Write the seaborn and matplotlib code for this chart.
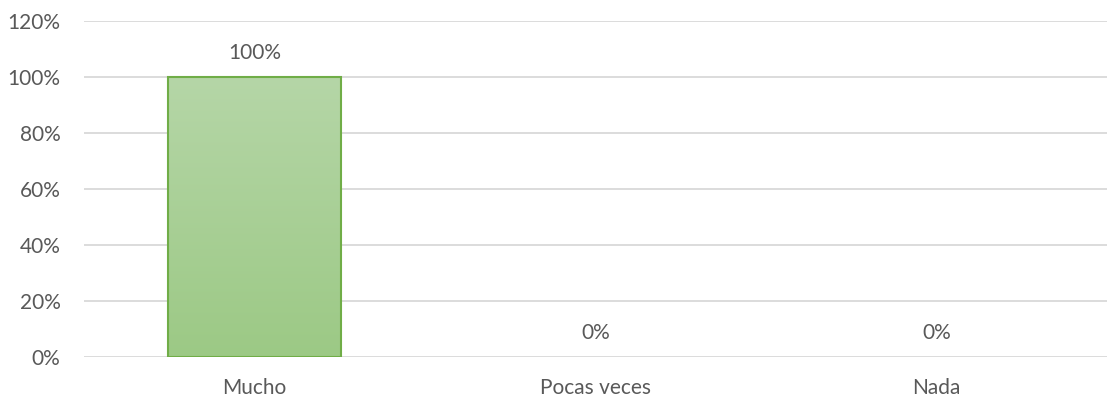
import matplotlib
matplotlib.use("Agg")
import matplotlib.pyplot as plt
import seaborn as sns
import numpy as np
import pandas as pd
from matplotlib.colors import LinearSegmentedColormap
from matplotlib.ticker import FuncFormatter

categories = ["Mucho", "Pocas veces", "Nada"]
values = [1.00, 0.00, 0.00]
yticks = [0, 0.2, 0.4, 0.6, 0.8, 1.0, 1.2]

sns.set_theme(style="white")
plt.rcParams['font.family'] = ['Lato', 'DejaVu Sans']

df = pd.DataFrame({"cat": categories, "val": values})

fig = plt.figure(figsize=(11.07, 4.0), dpi=100)
ax = fig.add_axes([84/1107, 43/400, (1107-84)/1107, (357-21)/400])

sns.barplot(data=df, x="cat", y="val", ax=ax, width=0.507,
            color="#9dc987", edgecolor="#70ad47", linewidth=1.5, zorder=3)

ax.set_ylim(0, 1.2)
ax.set_xlim(-0.5, 2.5)
ax.set_yticks(yticks)
ax.yaxis.set_major_formatter(FuncFormatter(lambda v, p: f"{v*100:.0f}%"))
ax.grid(axis="y", color="#d9d9d9", linewidth=1.3, zorder=0)
ax.set_axisbelow(True)
for s in ax.spines.values():
    s.set_visible(False)
ax.set_xlabel("")
ax.set_ylabel("")
ax.tick_params(axis="both", length=0, labelsize=15, labelcolor="#595959")
ax.tick_params(axis="y", pad=17)
ax.tick_params(axis="x", pad=15)

cmap = LinearSegmentedColormap.from_list("g", ["#9cc985", "#b5d6a7"])
grad = np.linspace(0, 1, 256).reshape(-1, 1)
for p in ax.patches:
    h = p.get_height()
    if h <= 0:
        p.set_visible(False)
        continue
    x0 = p.get_x()
    w = p.get_width()
    im = ax.imshow(grad, extent=[x0, x0 + w, 0, h], origin="lower",
                   cmap=cmap, aspect="auto", zorder=3.5)
    im.set_clip_path(p)
    p.set_facecolor("none")
    p.set_zorder(4)
ax.set_xlim(-0.5, 2.5)
ax.set_ylim(0, 1.2)

for i, v in enumerate(values):
    ax.annotate(f"{v*100:.0f}%", (i, v), xytext=(0, 10), textcoords="offset points",
                ha="center", va="bottom", fontsize=15, color="#595959")

fig.savefig("out.png", dpi=100)
